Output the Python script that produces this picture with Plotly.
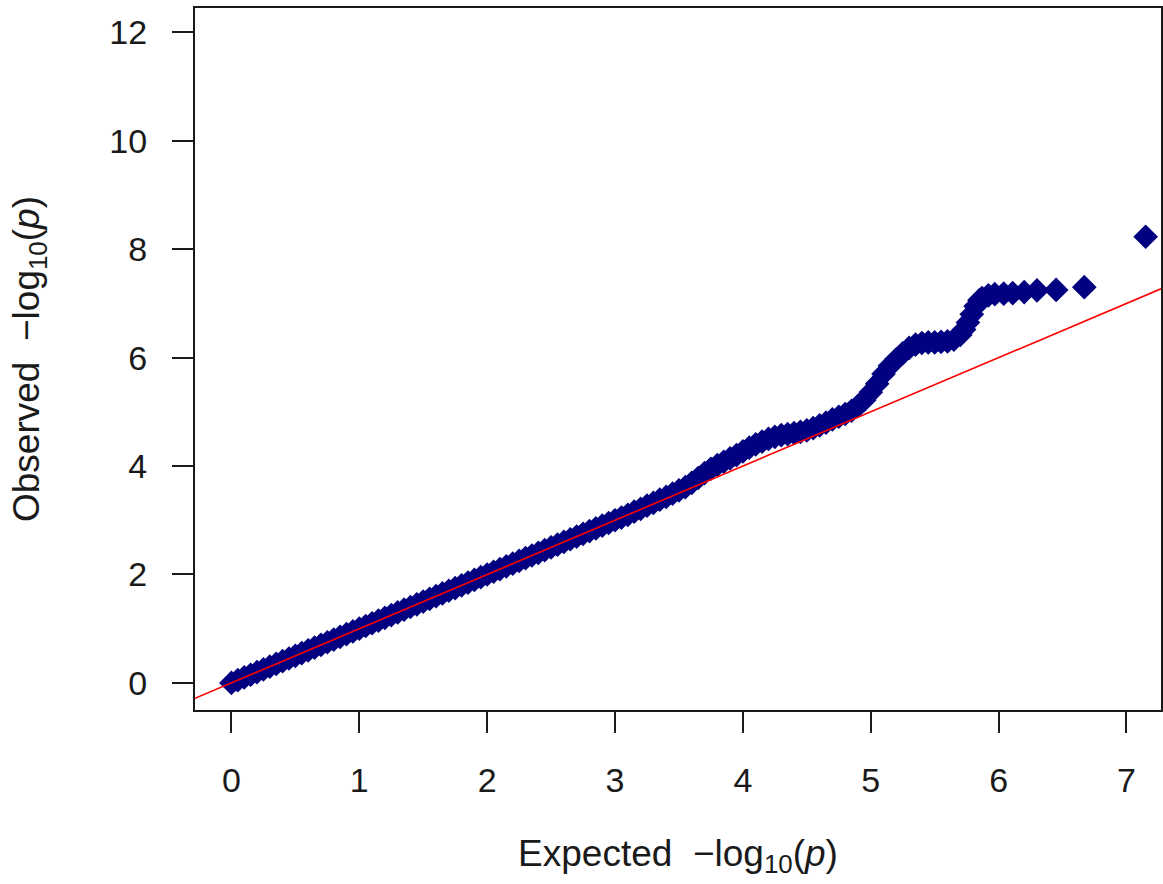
import plotly.graph_objects as go

# Expected -log10(p) (x) and observed -log10(p) (y)
expected = [
    0.00, 0.05, 0.10, 0.15, 0.20, 0.25, 0.30, 0.35, 0.40, 0.45,
    0.50, 0.55, 0.60, 0.65, 0.70, 0.75, 0.80, 0.85, 0.90, 0.95,
    1.00, 1.05, 1.10, 1.15, 1.20, 1.25, 1.30, 1.35, 1.40, 1.45,
    1.50, 1.55, 1.60, 1.65, 1.70, 1.75, 1.80, 1.85, 1.90, 1.95,
    2.00, 2.05, 2.10, 2.15, 2.20, 2.25, 2.30, 2.35, 2.40, 2.45,
    2.50, 2.55, 2.60, 2.65, 2.70, 2.75, 2.80, 2.85, 2.90, 2.95,
    3.00, 3.05, 3.10, 3.15, 3.20, 3.25, 3.30, 3.35, 3.40, 3.45,
    3.50, 3.55, 3.60, 3.65, 3.70, 3.75, 3.80, 3.85, 3.90, 3.95,
    4.00, 4.05, 4.10, 4.15, 4.20, 4.25, 4.30, 4.35, 4.40, 4.45,
    4.50, 4.55, 4.60, 4.65, 4.70, 4.75, 4.80, 4.85, 4.90, 4.95,
    5.00, 5.05, 5.10, 5.15, 5.20, 5.25, 5.30, 5.35, 5.40, 5.45,
    5.50, 5.55, 5.60, 5.65, 5.70, 5.73, 5.76, 5.79, 5.82, 5.85,
    5.87, 5.92, 5.97, 6.04, 6.11, 6.20, 6.30, 6.45, 6.67, 7.15,
]
observed = [
    0.00, 0.05, 0.10, 0.15, 0.20, 0.25, 0.30, 0.35, 0.40, 0.45,
    0.50, 0.55, 0.60, 0.65, 0.70, 0.75, 0.80, 0.85, 0.90, 0.95,
    1.00, 1.05, 1.10, 1.15, 1.20, 1.25, 1.30, 1.35, 1.40, 1.45,
    1.50, 1.55, 1.60, 1.65, 1.70, 1.75, 1.80, 1.85, 1.90, 1.95,
    2.00, 2.05, 2.10, 2.15, 2.20, 2.25, 2.30, 2.35, 2.40, 2.45,
    2.50, 2.55, 2.60, 2.65, 2.70, 2.75, 2.80, 2.85, 2.90, 2.95,
    3.00, 3.05, 3.10, 3.16, 3.21, 3.27, 3.32, 3.38, 3.43, 3.49,
    3.55, 3.61, 3.69, 3.78, 3.87, 3.95, 4.02, 4.08, 4.14, 4.20,
    4.27, 4.34, 4.40, 4.45, 4.50, 4.54, 4.57, 4.59, 4.61, 4.63,
    4.66, 4.70, 4.75, 4.80, 4.86, 4.91, 4.96, 5.02, 5.11, 5.22,
    5.36, 5.52, 5.70, 5.85, 5.97, 6.08, 6.18, 6.24, 6.27, 6.28,
    6.28, 6.29, 6.30, 6.33, 6.42, 6.52, 6.65, 6.80, 6.95, 7.06,
    7.10, 7.15, 7.17, 7.18, 7.19, 7.21, 7.24, 7.25, 7.30, 8.23,
]

x_ticks = [0, 1, 2, 3, 4, 5, 6, 7]
y_ticks = [0, 2, 4, 6, 8, 10, 12]
x_range = [-0.285, 7.27]
y_range = [-0.5, 12.45]

FONT = "Liberation Sans, Arial, sans-serif"
INK = "#1a1a1a"

fig = go.Figure()
fig.add_trace(go.Scatter(
    x=expected, y=observed, mode="markers",
    marker=dict(symbol="diamond", size=19, color="#000080", line=dict(width=0)),
    showlegend=False, hoverinfo="x+y",
))
# y = x reference line spanning the axis range
fig.add_trace(go.Scatter(
    x=x_range, y=x_range, mode="lines",
    line=dict(color="#ff0000", width=1.6),
    showlegend=False, hoverinfo="skip",
))

axis_common = dict(
    showline=True, mirror=True, linecolor=INK, linewidth=2,
    ticks="outside", ticklen=21, tickwidth=2, tickcolor=INK,
    showgrid=False, zeroline=False,
    tickfont=dict(family=FONT, size=34, color=INK),
    ticklabelstandoff=18,
)

fig.update_xaxes(
    range=x_range, tickvals=x_ticks, ticktext=[str(v) for v in x_ticks],
    title=dict(text="Expected \u00a0\u2212log<sub>10</sub>(<i>p</i>)",
               font=dict(family=FONT, size=37, color=INK), standoff=42),
    **axis_common,
)
fig.update_yaxes(
    range=y_range, tickvals=y_ticks, ticktext=[str(v) for v in y_ticks],
    title=dict(text="Observed \u00a0\u2212log<sub>10</sub>(<i>p</i>)",
               font=dict(family=FONT, size=37, color=INK), standoff=58),
    **axis_common,
)

fig.update_layout(
    width=1163, height=884,
    margin=dict(l=195, r=2, t=8, b=174, autoexpand=False),
    paper_bgcolor="white", plot_bgcolor="white",
)

# remove the default page margin so the figure fills the window exactly
fig.write_html(
    "out.html",
    config={"displayModeBar": False},
    post_script="document.body.style.margin='0';document.body.style.overflow='hidden';",
)
